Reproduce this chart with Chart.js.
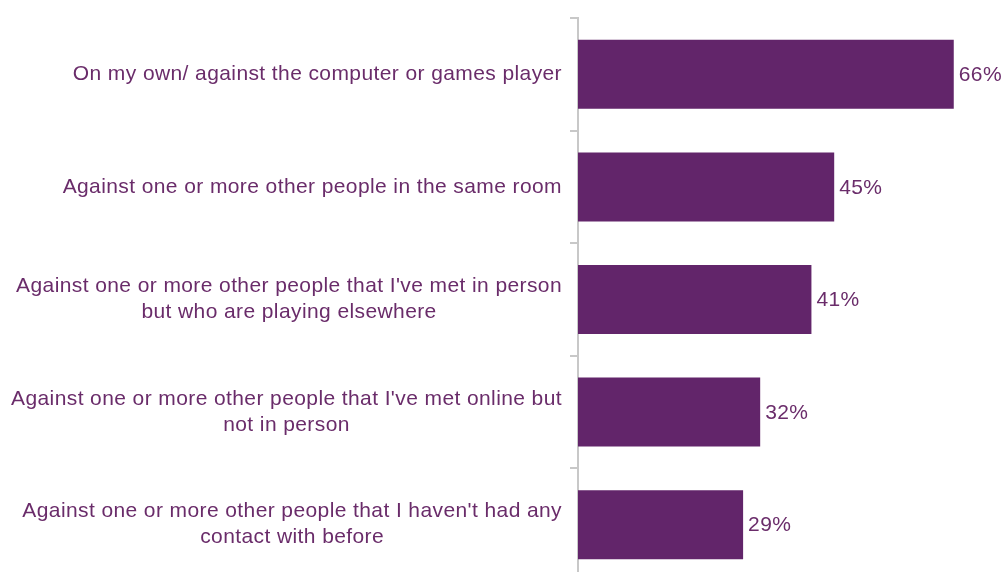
<!doctype html>
<html lang="en">
<head>
    <meta charset="UTF-8">
    <title>How games are played</title>
    <style>
        html, body {
            margin: 0;
            padding: 0;
            background-color: #ffffff;
            overflow: hidden;
        }
        #chart-wrap {
            width: 1005px;
            height: 581px;
        }
    </style>
    <script src="https://cdn.jsdelivr.net/npm/chart.js"></script>
</head>
<body>
<div id="chart-wrap">
    <canvas id="myChart" width="1005" height="581"></canvas>
</div>

<script>
    const categories = [
        ['On my own/ against the computer or games player'],
        ['Against one or more other people in the same room'],
        ['Against one or more other people that I\'ve met in person', 'but who are playing elsewhere'],
        ['Against one or more other people that I\'ve met online but', 'not in person'],
        ['Against one or more other people that I haven\'t had any', 'contact with before']
    ];
    const shares = [66, 45, 41, 32, 29];
    const axisMax = 75;

    const purple = '#62256a';
    const textColor = '#6a2c6a';
    const labelFont = '21px "Liberation Sans", Arial, sans-serif';
    const spacing = '0.4px';

    // category labels: block right-aligned to the axis, lines centred inside the block
    const categoryLabels = {
        id: 'categoryLabels',
        afterDraw(chart) {
            const ctx = chart.ctx;
            const yScale = chart.scales.y;
            const right = 562;
            const lineHeight = 26;
            ctx.save();
            ctx.font = labelFont;
            ctx.letterSpacing = spacing;
            ctx.fillStyle = textColor;
            ctx.textAlign = 'center';
            ctx.textBaseline = 'middle';
            categories.forEach((lines, i) => {
                const y = yScale.getPixelForValue(i);
                const blockWidth = Math.max(...lines.map(l => ctx.measureText(l).width));
                const cx = right - blockWidth / 2;
                lines.forEach((line, j) => {
                    ctx.fillText(line, cx, y + (j - (lines.length - 1) / 2) * lineHeight);
                });
            });
            ctx.restore();
        }
    };

    const valueLabels = {
        id: 'valueLabels',
        afterDatasetsDraw(chart) {
            const ctx = chart.ctx;
            const meta = chart.getDatasetMeta(0);
            ctx.save();
            ctx.font = labelFont;
            ctx.letterSpacing = spacing;
            ctx.fillStyle = textColor;
            ctx.textAlign = 'left';
            ctx.textBaseline = 'middle';
            meta.data.forEach((bar, i) => {
                ctx.fillText(shares[i] + '%', bar.x + 5, bar.y + 1);
            });
            ctx.restore();
        }
    };

    const ctx = document.getElementById('myChart').getContext('2d');
    new Chart(ctx, {
        type: 'bar',
        data: {
            labels: categories,
            datasets: [{
                data: shares,
                backgroundColor: purple,
                borderWidth: 0,
                categoryPercentage: 1,
                barPercentage: 0.613
            }]
        },
        options: {
            indexAxis: 'y',
            responsive: false,
            animation: false,
            devicePixelRatio: 1,
            layout: {
                padding: { left: 570, top: 18, right: 0, bottom: 0 }
            },
            plugins: {
                legend: { display: false },
                tooltip: { enabled: false }
            },
            scales: {
                x: {
                    display: false,
                    min: 0,
                    max: axisMax
                },
                y: {
                    offset: true,
                    border: { display: true, color: '#c8c8c8', width: 2 },
                    grid: {
                        offset: true,
                        drawOnChartArea: false,
                        drawTicks: true,
                        tickLength: 8,
                        color: '#c8c8c8',
                        lineWidth: 2
                    },
                    ticks: { display: false }
                }
            }
        },
        plugins: [categoryLabels, valueLabels]
    });
</script>
</body>
</html>
